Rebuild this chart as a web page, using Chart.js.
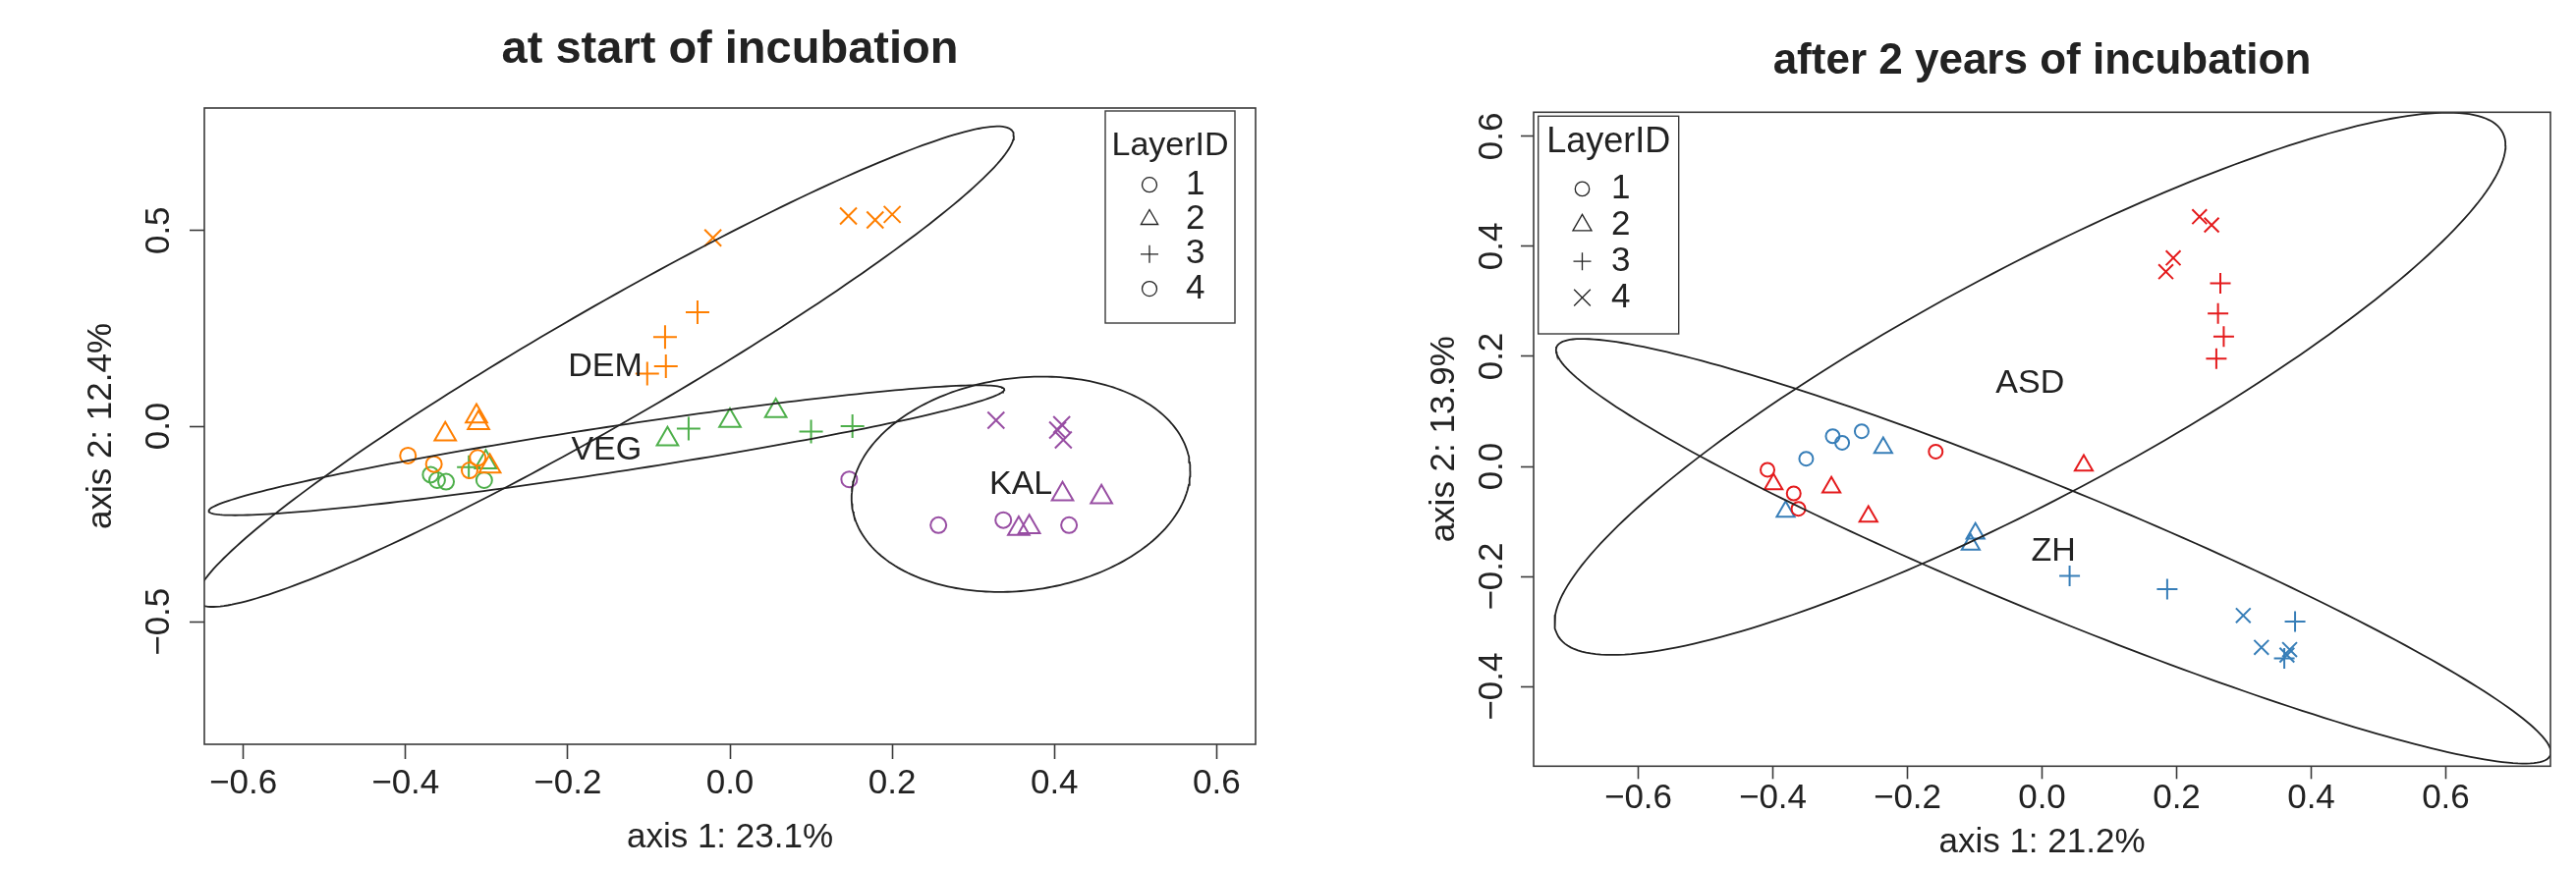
<!DOCTYPE html>
<html><head><meta charset="utf-8">
<script src="https://cdn.jsdelivr.net/npm/chart.js@4.4.1/dist/chart.umd.min.js"></script>
<style>
html,body{margin:0;padding:0;background:#fff;overflow:hidden;}
#wrap{position:relative;width:2622px;height:885px;background:#fff;}
canvas{position:absolute;top:0;}
</style></head>
<body><div id="wrap">
<canvas id="c1" width="1311" height="885" style="left:0px"></canvas>
<canvas id="c2" width="1311" height="885" style="left:1311px"></canvas>
</div>
<script>
// ---------------- data ----------------
const xTicks = [-0.6, -0.4, -0.2, 0.0, 0.2, 0.4, 0.6];
const yTicksStart = [-0.5, 0.0, 0.5];
const yTicksAfter = [-0.4, -0.2, 0.0, 0.2, 0.4, 0.6];
const layerLabels = ['1', '2', '3', '4'];
const titles = ['at start of incubation', 'after 2 years of incubation'];
const xLabels = ['axis 1: 23.1%', 'axis 1: 21.2%'];
const yLabels = ['axis 2: 12.4%', 'axis 2: 13.9%'];
const sitesStart = ['DEM', 'VEG', 'KAL'];
const sitesAfter = ['ASD', 'ZH'];
const ellipseConf = 0.95;

// rows: [axis 1, axis 2, LayerID]
const DEM = [
  [-0.397, -0.075, 1], [-0.365, -0.097, 1], [-0.311, -0.081, 1], [-0.321, -0.113, 1],
  [-0.3125, 0.025, 2], [-0.310, 0.008, 2], [-0.351, -0.021, 2], [-0.296, -0.103, 2],
  [-0.040, 0.291, 3], [-0.080, 0.228, 3], [-0.079, 0.153, 3], [-0.102, 0.134, 3],
  [-0.021, 0.481, 4], [0.146, 0.537, 4], [0.179, 0.527, 4], [0.200, 0.541, 4]
];
const VEG = [
  [-0.369, -0.124, 1], [-0.361, -0.138, 1], [-0.350, -0.142, 1], [-0.303, -0.138, 1],
  [-0.301, -0.092, 2], [-0.077, -0.033, 2], [0.000, 0.014, 2], [0.0565, 0.039, 2],
  [-0.322, -0.105, 3], [-0.051, -0.006, 3], [0.100, -0.014, 3], [0.151, 0.000, 3]
];
const KAL = [
  [0.147, -0.136, 1], [0.257, -0.253, 1], [0.337, -0.240, 1], [0.418, -0.253, 1],
  [0.410, -0.174, 2], [0.458, -0.181, 2], [0.356, -0.262, 2], [0.369, -0.258, 2],
  [0.328, 0.015, 4], [0.409, 0.004, 4], [0.404, -0.010, 4], [0.411, -0.035, 4]
];
const ASD = [
  [-0.408, -0.006, 1], [-0.369, -0.049, 1], [-0.362, -0.077, 1], [-0.158, 0.027, 1],
  [-0.399, -0.032, 2], [-0.313, -0.038, 2], [-0.258, -0.091, 2], [0.062, 0.002, 2],
  [0.265, 0.333, 3], [0.2615, 0.278, 3], [0.270, 0.236, 3], [0.259, 0.196, 3],
  [0.234, 0.454, 4], [0.252, 0.439, 4], [0.195, 0.379, 4], [0.184, 0.354, 4]
];
const ZH = [
  [-0.3505, 0.014, 1], [-0.311, 0.055, 1], [-0.297, 0.043, 1], [-0.268, 0.064, 1],
  [-0.236, 0.034, 2], [-0.381, -0.082, 2], [-0.099, -0.122, 2], [-0.106, -0.142, 2],
  [0.041, -0.199, 3], [0.186, -0.223, 3], [0.376, -0.282, 3], [0.360, -0.349, 3],
  [0.299, -0.271, 4], [0.326, -0.329, 4], [0.368, -0.333, 4], [0.364, -0.343, 4]
];

// ---------------- styling ----------------
const FAMILY = "'Liberation Sans', Arial, Helvetica, sans-serif";
const SITE_COLORS = { DEM: '#FF7F00', VEG: '#4DAF4A', KAL: '#984EA3', ASD: '#E41A1C', ZH: '#377EB8' };
const SITE_ROWS = { DEM, VEG, KAL, ASD, ZH };
const STYLE = { 1: 'circle', 2: 'triangle', 3: 'cross', 4: 'crossRot' };
const TEXT = '#222222';
const AXIS = '#3a3a3a';

const fmt = v => (Math.round(v * 10) / 10).toFixed(1).replace('-', '\u2212');

function stats(rows) {
  const n = rows.length;
  let mx = 0, my = 0;
  rows.forEach(r => { mx += r[0]; my += r[1]; });
  mx /= n; my /= n;
  let sxx = 0, syy = 0, sxy = 0;
  rows.forEach(r => { const dx = r[0] - mx, dy = r[1] - my; sxx += dx * dx; syy += dy * dy; sxy += dx * dy; });
  sxx /= (n - 1); syy /= (n - 1); sxy /= (n - 1);
  return { mx, my, sxx, syy, sxy };
}
function ellipsePoints(rows) {
  const s = stats(rows);
  const k = Math.sqrt(-2 * Math.log(1 - ellipseConf));
  const l11 = Math.sqrt(s.sxx), l21 = s.sxy / l11, l22 = Math.sqrt(Math.max(s.syy - l21 * l21, 0));
  const pts = [];
  const N = 240;
  for (let i = 0; i <= N; i++) {
    const t = 2 * Math.PI * i / N, c = Math.cos(t), sn = Math.sin(t);
    pts.push({ x: s.mx + k * l11 * c, y: s.my + k * (l21 * c + l22 * sn) });
  }
  return pts;
}

function drawSym(ctx, style, x, y, r) {
  ctx.beginPath();
  if (style === 'circle') {
    ctx.arc(x, y, r, 0, Math.PI * 2);
  } else if (style === 'triangle') {
    ctx.moveTo(x, y - r);
    ctx.lineTo(x + 0.866 * r, y + 0.5 * r);
    ctx.lineTo(x - 0.866 * r, y + 0.5 * r);
    ctx.closePath();
  } else if (style === 'cross') {
    ctx.moveTo(x - r, y); ctx.lineTo(x + r, y);
    ctx.moveTo(x, y - r); ctx.lineTo(x, y + r);
  } else {
    const o = r * 0.7071;
    ctx.moveTo(x - o, y - o); ctx.lineTo(x + o, y + o);
    ctx.moveTo(x + o, y - o); ctx.lineTo(x - o, y + o);
  }
  ctx.stroke();
}

const rDecor = {
  id: 'rDecor',
  afterDraw(chart, args, o) {
    const ctx = chart.ctx, ca = chart.chartArea;
    const xs = chart.scales.x, ys = chart.scales.y;
    ctx.save();
    ctx.strokeStyle = AXIS; ctx.lineWidth = 1.6;
    ctx.strokeRect(ca.left, ca.top, ca.right - ca.left, ca.bottom - ca.top);
    // site labels at group centroids
    ctx.fillStyle = TEXT; ctx.textAlign = 'center'; ctx.textBaseline = 'middle';
    ctx.font = 'normal ' + o.siteFont + 'px ' + FAMILY;
    o.sites.forEach(name => {
      const s = stats(SITE_ROWS[name]);
      ctx.fillText(name, xs.getPixelForValue(s.mx), ys.getPixelForValue(s.my));
    });
    // legend
    const L = o.legend;
    const left = L.anchor === 'right' ? ca.right - L.inset - L.w : ca.left + L.inset;
    const top = ca.top + L.insetTop;
    ctx.strokeStyle = AXIS; ctx.lineWidth = 1.4;
    ctx.strokeRect(left, top, L.w, L.h);
    ctx.font = 'normal ' + L.titleSize + 'px ' + FAMILY;
    ctx.textAlign = 'center'; ctx.textBaseline = 'alphabetic';
    ctx.fillText('LayerID', left + L.w / 2, top + L.titleBase);
    ctx.font = 'normal ' + L.itemSize + 'px ' + FAMILY;
    ctx.textAlign = 'left'; ctx.textBaseline = 'middle';
    ctx.strokeStyle = '#222'; ctx.lineWidth = 1.3;
    layerLabels.forEach((lab, i) => {
      const y = top + L.row0 + i * L.rowGap;
      drawSym(ctx, L.symbols[i], left + L.symX, y, L.symR[i]);
      ctx.fillText(lab, left + L.textX, y);
    });
    ctx.restore();
  }
};

function widest(labels, size) {
  const m = document.createElement('canvas').getContext('2d');
  m.font = 'normal ' + size + 'px ' + FAMILY;
  return Math.max(...labels.map(l => m.measureText(l).width));
}

function makeChart(id, c) {
  const datasets = [];
  c.sites.forEach(name => {
    const rows = SITE_ROWS[name];
    datasets.push({
      label: name + ' ellipse', data: ellipsePoints(rows), showLine: true,
      pointRadius: 0, borderColor: '#222', borderWidth: 1.8, fill: false, tension: 0,
      clip: 0, order: 0
    });
    [1, 2, 3, 4].forEach(layer => {
      const pts = rows.filter(r => r[2] === layer).map(r => ({ x: r[0], y: r[1] }));
      if (!pts.length) return;
      datasets.push({
        label: name + ' ' + layer, data: pts, showLine: false,
        pointStyle: STYLE[layer], pointRadius: c.markR[layer],
        borderColor: SITE_COLORS[name], pointBorderColor: SITE_COLORS[name],
        backgroundColor: 'rgba(0,0,0,0)', pointBackgroundColor: 'rgba(0,0,0,0)',
        pointBorderWidth: 2, order: 1
      });
    });
  });
  const yLabelsFmt = c.yTicks.map(fmt);
  const yPad = c.yLabelOff - widest(yLabelsFmt, 35) / 2;
  return new Chart(document.getElementById(id), {
    type: 'scatter',
    data: { datasets },
    options: {
      responsive: false, animation: false, events: [],
      layout: { padding: { left: 0, right: c.padRight, top: 0, bottom: 0 } },
      plugins: {
        legend: { display: false }, tooltip: { enabled: false },
        title: {
          display: true, text: c.title, fullSize: false, color: TEXT,
          font: { family: FAMILY, size: c.titleSize, weight: 'bold' },
          padding: { top: c.titlePadTop, bottom: c.titlePadBottom }
        },
        rDecor: { sites: c.sites, siteFont: 34, legend: c.legend }
      },
      scales: {
        x: {
          type: 'linear', position: 'bottom', min: c.xRange[0], max: c.xRange[1], bounds: 'data',
          afterBuildTicks: s => { s.ticks = xTicks.map(v => ({ value: v })); },
          afterFit: s => { s.height = c.xAxisH; },
          ticks: { callback: v => fmt(v), font: { family: FAMILY, size: 35 }, color: TEXT, padding: c.xTickPad, maxRotation: 0, minRotation: 0, autoSkip: false },
          grid: { display: true, drawOnChartArea: false, drawTicks: true, tickLength: c.tickLen, tickWidth: 1.6, tickColor: AXIS },
          border: { display: false },
          title: { display: true, text: c.xLabel, color: TEXT, font: { family: FAMILY, size: 35 }, padding: { top: 0, bottom: c.xTitlePadBottom } }
        },
        y: {
          type: 'linear', position: 'left', min: c.yRange[0], max: c.yRange[1], bounds: 'data',
          afterBuildTicks: s => { s.ticks = c.yTicks.map(v => ({ value: v })); },
          afterFit: s => { s.width = c.yAxisW; },
          ticks: { callback: v => fmt(v), font: { family: FAMILY, size: 35 }, color: TEXT, padding: yPad, minRotation: 90, maxRotation: 90, crossAlign: 'center', autoSkip: false },
          grid: { display: true, drawOnChartArea: false, drawTicks: true, tickLength: c.tickLen, tickWidth: 1.6, tickColor: AXIS },
          border: { display: false },
          title: { display: true, text: c.yLabel, color: TEXT, font: { family: FAMILY, size: 35 }, padding: { top: c.yTitlePadTop, bottom: 0 } }
        }
      }
    },
    plugins: [rDecor]
  });
}

makeChart('c1', {
  title: titles[0], titleSize: 47, titlePadTop: 23, titlePadBottom: 30.6,
  xLabel: xLabels[0], yLabel: yLabels[0],
  xRange: [-0.648, 0.648], yRange: [-0.813, 0.813], yTicks: yTicksStart,
  sites: sitesStart, padRight: 33, xAxisH: 127, yAxisW: 208, tickLen: 15,
  xTickPad: 4, xTitlePadBottom: 11, yTitlePadTop: 82, yLabelOff: 31,
  markR: { 1: 8, 2: 12.5, 3: 12, 4: 12 },
  legend: { anchor: 'right', inset: 21, insetTop: 3, w: 132, h: 216, titleSize: 34, titleBase: 45.3,
    itemSize: 35, symX: 45, textX: 82, row0: 75.2, rowGap: 35.3,
    symbols: ['circle', 'triangle', 'cross', 'circle'], symR: [7.5, 10, 9, 7.5] }
});

makeChart('c2', {
  title: titles[1], titleSize: 44, titlePadTop: 36.6, titlePadBottom: 24.9,
  xLabel: xLabels[1], yLabel: yLabels[1],
  xRange: [-0.7555, 0.7555], yRange: [-0.545, 0.644], yTicks: yTicksAfter,
  sites: sitesAfter, padRight: 26, xAxisH: 104.7, yAxisW: 250, tickLen: 13,
  xTickPad: -1.3, xTitlePadBottom: 6, yTitlePadTop: 138, yLabelOff: 29,
  markR: { 1: 7, 2: 10.5, 3: 10.5, 4: 10.5 },
  legend: { anchor: 'left', inset: 4.7, insetTop: 4, w: 143, h: 221.7, titleSize: 36, titleBase: 36.7,
    itemSize: 35, symX: 44.8, textX: 74.3, row0: 74.1, rowGap: 36.9,
    symbols: ['circle', 'triangle', 'cross', 'crossRot'], symR: [7.2, 11, 9, 11.8] }
});
</script>
</body></html>
